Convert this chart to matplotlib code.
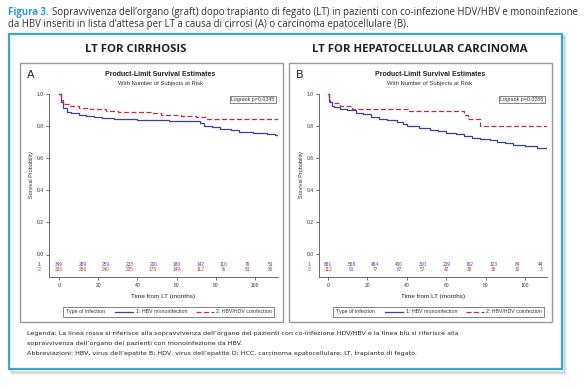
import matplotlib
matplotlib.use("Agg")
import matplotlib.pyplot as plt
from matplotlib.patches import Rectangle
from matplotlib.lines import Line2D

W, H = 586, 389

# ---- data ----
at_risk_times = [0, 12, 24, 36, 48, 60, 72, 84, 96, 108]

# A : LT for cirrhosis
a_mono_t = [0, 1, 2, 4, 6, 10, 14, 18, 22, 28, 31, 40, 48, 56, 65, 72, 74, 78, 82, 88, 92, 99, 103, 106, 110, 111.5]
a_mono_s = [1.0, 0.95, 0.91, 0.89, 0.88, 0.87, 0.865, 0.858, 0.85, 0.847, 0.845, 0.84, 0.835, 0.832, 0.83, 0.82,
            0.80, 0.795, 0.785, 0.775, 0.765, 0.76, 0.755, 0.75, 0.745, 0.735]
a_coinf_t = [0, 1, 2, 5, 10, 16, 24, 30, 40, 48, 52, 62, 70, 75, 111.5]
a_coinf_s = [1.0, 0.96, 0.935, 0.925, 0.915, 0.905, 0.895, 0.89, 0.885, 0.883, 0.872, 0.865, 0.857, 0.847, 0.847]
a_risk_mono = [349, 289, 259, 233, 200, 180, 142, 110, 79, 51]
a_risk_coinf = [333, 288, 240, 205, 175, 149, 112, 76, 51, 30]
a_logrank = "Logrank p=0.0345"

# B : LT for HCC
b_mono_t = [0, 0.5, 1, 2, 3, 6, 9.5, 14, 18, 22, 26, 30, 35, 38, 40, 46, 52, 56, 60, 65, 69, 73, 77, 82, 86,
            90, 94, 100, 106, 111]
b_mono_s = [1.0, 0.96, 0.945, 0.925, 0.915, 0.905, 0.895, 0.88, 0.87, 0.855, 0.84, 0.835, 0.825, 0.81, 0.795,
            0.785, 0.77, 0.765, 0.755, 0.745, 0.735, 0.725, 0.715, 0.71, 0.70, 0.69, 0.68, 0.67, 0.66, 0.655]
b_coinf_t = [0, 0.5, 2, 6, 12, 41, 69, 71, 77, 111]
b_coinf_s = [1.0, 0.95, 0.94, 0.925, 0.902, 0.89, 0.865, 0.838, 0.80, 0.80]
b_risk_mono = [681, 558, 484, 400, 310, 239, 162, 123, 84, 44]
b_risk_coinf = [112, 81, 77, 67, 57, 42, 30, 18, 10, 3]
b_logrank = "Logrank p=0.0288"

legend_labels = ["1: HBV monoinfection", "2: HBV/HDV coinfection"]

BLUE = "#3f3f9e"
RED = "#cc2a36"
CYAN = "#2a9ad6"
SAS = "Liberation Sans"


def fx(x):
    return x / W


def fy(y):
    return 1 - y / H


fig = plt.figure(figsize=(W / 100, H / 100), dpi=100)
fig.patch.set_facecolor("white")
renderer = fig.canvas.get_renderer()


def width_px(t):
    return t.get_window_extent(renderer=renderer).width


# background layer in pixel coords
bg = fig.add_axes([0, 0, 1, 1])
bg.set_xlim(0, W)
bg.set_ylim(H, 0)
bg.axis("off")

# shadow + outer blue frame
for k, a in enumerate([0.10, 0.07, 0.04]):
    bg.add_patch(Rectangle((11 + k, 36 + k), 553, 336, fc="none", ec="black", lw=1.5, alpha=a))
bg.add_patch(Rectangle((9, 34), 553, 335, fc="white", ec="#3ba3db", lw=1.6))

# inner gray panels
bg.add_patch(Rectangle((20, 63), 263, 259, fc="none", ec="#9a9a9a", lw=1))
bg.add_patch(Rectangle((289, 63), 263, 259, fc="none", ec="#9a9a9a", lw=1))

# caption, shrunk until the first line fits the 570 px of the reference
cap_rest = "Sopravvivenza dell\u2019organo (graft) dopo trapianto di fegato (LT) in pazienti con co-infezione HDV/HBV e monoinfezione"
cap_line2 = "da HBV inseriti in lista d\u2019attesa per LT a causa di cirrosi (A) o carcinoma epatocellulare (B)."
fs = 7.6
while True:
    c1 = fig.text(fx(8), fy(12), "Figura 3.", color=CYAN, fontsize=fs, fontweight="bold",
                  family="Open Sans", va="center")
    c2 = fig.text(0, fy(12), cap_rest, color="#333333", fontsize=fs, family="Open Sans", va="center")
    if width_px(c1) + width_px(c2) + 3 <= 572 or fs < 5:
        break
    c1.remove()
    c2.remove()
    fs -= 0.1
c2.set_x((8 + width_px(c1) + 3) / W)
fig.text(fx(8), fy(24), cap_line2, color="#333333", fontsize=fs, family="Open Sans", va="center")

# panel headings
fig.text(fx(136), fy(49), "LT FOR CIRRHOSIS", fontsize=8.2, fontweight="bold", family="Open Sans",
         ha="center", va="center", color="#222222")
fig.text(fx(420), fy(49), "LT FOR HEPATOCELLULAR CARCINOMA", fontsize=8.2, fontweight="bold",
         family="Open Sans", ha="center", va="center", color="#222222")

# footnote
foot = ["Legenda: La linea rossa si riferisce alla sopravvivenza dell\u2019organo dei pazienti con co-infezione HDV/HBV e la linea blu si riferisce alla",
        "sopravvivenza dell\u2019organo dei pazienti con monoinfezione da HBV.",
        "Abbreviazioni: HBV, virus dell\u2019epatite B; HDV, virus dell\u2019epatite D; HCC, carcinoma epatocellulare; LT, trapianto di fegato."]
for i, line in enumerate(foot):
    fig.text(fx(27), fy(334 + i * 9.5), line, fontsize=4.6, family="DejaVu Sans", va="center", color="#222222")


def panel(letter, box_left, ax_left, ax_right, x0_px, px_per_mo, y1_px, y0_px,
          mono_t, mono_s, coinf_t, coinf_s, risk_mono, risk_coinf, logrank):
    top, bottom = 92, 277
    ax = fig.add_axes([fx(ax_left), fy(bottom), (ax_right - ax_left) / W, (bottom - top) / H])
    ax.patch.set_alpha(0)
    ppu = y0_px - y1_px
    ax.set_ylim((y0_px - bottom) / ppu, 1 + (y1_px - top) / ppu)
    ax.set_xlim((ax_left - x0_px) / px_per_mo, (ax_right - x0_px) / px_per_mo)

    ax.plot(mono_t, mono_s, drawstyle="steps-post", color=BLUE, lw=0.9)
    ax.plot(coinf_t, coinf_s, drawstyle="steps-post", color=RED, lw=0.9, dashes=(4, 2))

    for sp in ["top", "right"]:
        ax.spines[sp].set_visible(False)
    for sp in ["left", "bottom"]:
        ax.spines[sp].set_color("#555555")
        ax.spines[sp].set_linewidth(0.6)
    ax.spines["left"].set_bounds(ax.get_ylim()[0], 1.0)
    ax.set_yticks([0, 0.2, 0.4, 0.6, 0.8, 1.0])
    ax.set_yticklabels(["0.0", "0.2", "0.4", "0.6", "0.8", "1.0"])
    ax.set_xticks([0, 20, 40, 60, 80, 100])
    ax.tick_params(labelsize=3.6, length=2.5, width=0.5, pad=1.5, colors="#333333")
    for lab in ax.get_xticklabels() + ax.get_yticklabels():
        lab.set_family(SAS)

    # number at risk inside plot
    r1 = (y0_px - 264) / ppu
    r2 = (y0_px - 269.5) / ppu
    xl = (ax_left - 10 - x0_px) / px_per_mo
    ax.text(xl, r1, "1", color=BLUE, fontsize=3.8, ha="center", va="center", family=SAS, clip_on=False)
    ax.text(xl, r2, "2", color=RED, fontsize=3.8, ha="center", va="center", family=SAS, clip_on=False)
    for t, n1, n2 in zip(at_risk_times, risk_mono, risk_coinf):
        ax.text(t, r1, str(n1), color=BLUE, fontsize=3.4, ha="center", va="center", family=SAS)
        ax.text(t, r2, str(n2), color=RED, fontsize=3.4, ha="center", va="center", family=SAS)

    ax.text(-0.078, 0.555, "Survival Probability", transform=ax.transAxes, rotation=90,
            fontsize=4.0, ha="center", va="center", family=SAS, color="#333333")
    ax.text(0.5, -0.108, "Time from LT (months)", transform=ax.transAxes, fontsize=4.6,
            ha="center", va="center", family=SAS, color="#222222")
    ax.text(0.985, 0.96, logrank, transform=ax.transAxes, fontsize=3.8, ha="right", va="center",
            family=SAS, color="#333333",
            bbox=dict(boxstyle="square,pad=0.25", fc="white", ec="#555555", lw=0.5))

    cx = (ax_left + ax_right) / 2 - 3
    fig.text(fx(cx), fy(74), "Product-Limit Survival Estimates", fontsize=5, fontweight="bold",
             family=SAS, ha="center", va="center", color="#222222")
    fig.text(fx(cx), fy(83), "With Number of Subjects at Risk", fontsize=4.2, family=SAS,
             ha="center", va="center", color="#333333")
    fig.text(fx(box_left + 11), fy(75), letter, fontsize=8, family="DejaVu Sans", ha="center",
             va="center", color="#222222")

    # legend box under the panel, laid out left to right
    lx0 = ax_left + 14
    ly = 311.5
    x = lx0 + 3
    t = bg.text(x, ly, "Type of infection", fontsize=3.8, family=SAS, va="center", color="#333333")
    x += width_px(t) + 10
    for lab, col, dash in [(legend_labels[0], BLUE, None), (legend_labels[1], RED, (4, 2))]:
        ln = Line2D([x, x + 18], [ly, ly], color=col, lw=0.9)
        if dash:
            ln.set_dashes(dash)
        bg.add_line(ln)
        x += 21
        t = bg.text(x, ly, lab, fontsize=3.8, family=SAS, va="center", color="#333333")
        x += width_px(t) + 8
    bg.add_patch(Rectangle((lx0, ly - 5), x - 6 - lx0, 10, fc="none", ec="#555555", lw=0.5, zorder=5))
    return ax


panel("A", 20, 49, 278, 59, 1.96, 94, 254.5,
      a_mono_t, a_mono_s, a_coinf_t, a_coinf_s, a_risk_mono, a_risk_coinf, a_logrank)
panel("B", 289, 319, 547, 328, 1.97, 93.5, 253.5,
      b_mono_t, b_mono_s, b_coinf_t, b_coinf_s, b_risk_mono, b_risk_coinf, b_logrank)

fig.savefig("out.png", dpi=100, facecolor="white")
